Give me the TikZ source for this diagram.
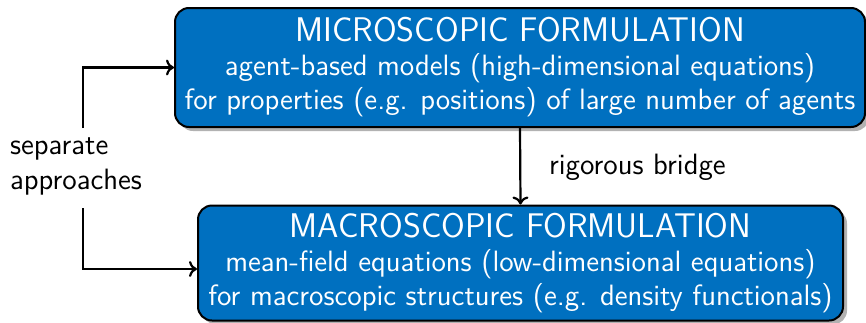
\documentclass[tikz,border=0pt]{standalone}
\usetikzlibrary{shadows,arrows.meta}
\definecolor{boxblue}{RGB}{0,112,192}
\begin{document}
\begin{tikzpicture}[x=0.5pt,y=-0.5pt,
  every node/.style={font=\sffamily\fontsize{14.7}{17}\selectfont},
  bluebox/.style={draw=black, line width=1pt, fill=boxblue, text=white,
    rounded corners=7pt, align=center, inner sep=0pt,
    drop shadow={shadow xshift=2pt, shadow yshift=-2pt, fill=black, opacity=0.3}},
  conn/.style={draw=black, line width=1.1pt, -{To[length=4pt,width=8pt]}}]
\useasboundingbox (0,0) rectangle (866,322);
\node[bluebox, minimum width=345pt, minimum height=59.5pt] (top) at (520,67.5)
  {{\fontsize{17.1}{17}\selectfont MICROSCOPIC FORMULATION}\\
   agent-based models (high-dimensional equations)\\
   for properties (e.g. positions) of large number of agents};
\node[bluebox, minimum width=322.5pt, minimum height=57.5pt] (bot) at (520.5,263)
  {{\fontsize{17.1}{17}\selectfont MACROSCOPIC FORMULATION}\\
   mean-field equations (low-dimensional equations)\\
   for macroscopic structures (e.g. density functionals)};
\node[align=left, anchor=west, font=\sffamily\fontsize{14.7}{17.5}\selectfont] (sep) at (3,166) {separate\\approaches};
\node[anchor=west] (rb) at (542,167) {rigorous bridge};
\coordinate (a1) at (83,128);
\coordinate (a2) at (83,208);
\draw[conn] (a1) |- (top.west);
\draw[conn] (a2) |- ([yshift=-3pt]bot.west);
\draw[conn] (top.south) -- (bot.north);
\end{tikzpicture}
\end{document}
